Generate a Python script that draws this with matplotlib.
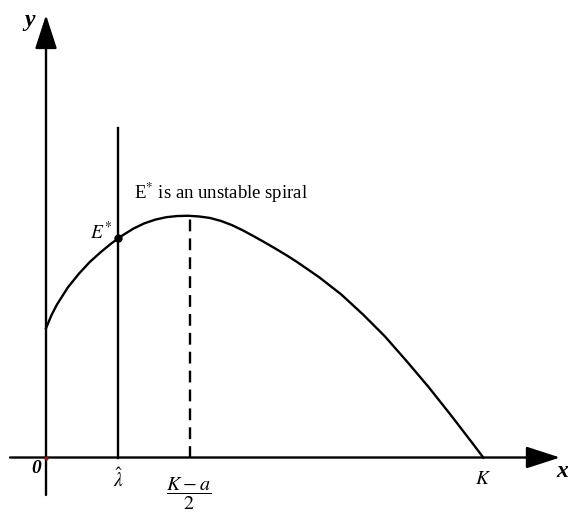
import matplotlib.pyplot as plt
from matplotlib.patches import FancyArrowPatch

plt.rcParams['mathtext.fontset'] = 'stix'
SERIF = ['Liberation Serif', 'DejaVu Serif']

# prey isocline (K = 10)
iso_x = [0.0, 0.125, 0.25, 0.5, 0.75, 1.0, 1.25, 1.5, 1.75, 2.0, 2.25, 2.5, 2.75, 3.0,
         3.25, 3.5, 3.75, 4.0, 4.25, 4.5, 4.75, 5.0, 5.25, 5.5, 5.75, 6.25, 6.75,
         7.25, 7.75, 8.25, 8.75, 9.25, 9.75, 10.0]
iso_y = [2.955, 3.255, 3.497, 3.89, 4.20, 4.47, 4.695, 4.90, 5.08, 5.235, 5.355, 5.44,
         5.495, 5.522, 5.528, 5.512, 5.478, 5.41, 5.315, 5.195, 5.06, 4.92, 4.775,
         4.625, 4.465, 4.12, 3.73, 3.27, 2.77, 2.20, 1.61, 0.98, 0.33, 0.0]

K = 10.0
lam_hat = 1.646          # predator isocline x = lambda-hat
lam_top = 7.535
peak_x = 3.293           # (K - a) / 2
peak_y = 5.528
E_star = (1.646, 5.01)

fig = plt.figure(figsize=(5.68, 5.2), dpi=100)
ax = fig.add_axes([0, 0, 1, 1])
ax.set_xlim(-1.052, 11.937)
ax.set_ylim(-1.429, 10.462)
ax.axis('off')

lw = 1.7
# axes with arrow heads
for start, end in [((-0.823, 0), (11.754, 0)), ((0, -0.857), (0, 10.12))]:
    ax.add_patch(FancyArrowPatch(start, end, arrowstyle='-|>,head_length=21,head_width=6.8',
                                 mutation_scale=1, lw=lw, color='black',
                                 shrinkA=0, shrinkB=0))

ax.plot(iso_x, iso_y, color='black', lw=lw, solid_joinstyle='round')
ax.plot([lam_hat, lam_hat], [0, lam_top], color='black', lw=lw)
ax.plot([peak_x, peak_x], [0, peak_y], color='black', lw=lw, dashes=(5, 3))
ax.plot(*E_star, 'o', color='black', ms=5)
ax.plot(0, 0, 'o', color='#8b1a1a', ms=2)

ax.text(-0.37, 10.0, 'y', family=SERIF, style='italic', weight='bold', fontsize=17,
        ha='center', va='center')
ax.text(11.8, -0.31, 'x', family=SERIF, style='italic', weight='bold', fontsize=17,
        ha='center', va='center')
ax.text(-0.22, -0.24, '0', family=SERIF, style='italic', weight='bold', fontsize=14,
        ha='center', va='center')
ax.text(lam_hat, -0.5, r'$\hat{\lambda}$', fontsize=14, ha='center', va='center')
ax.text(peak_x - 0.04, -0.84, r'$\dfrac{K-a}{2}$', fontsize=14.5, ha='center', va='center')
ax.text(K, -0.47, r'$K$', fontsize=14, ha='center', va='center')
ax.text(E_star[0] - 0.13, E_star[1] + 0.14, r'$E^{*}$', fontsize=14, ha='right', va='center')
ax.text(4.01, 6.05, r'E$^{*}$ is an unstable spiral', family=SERIF, fontsize=13.5,
        ha='center', va='center')

fig.savefig('out.png', dpi=100)
